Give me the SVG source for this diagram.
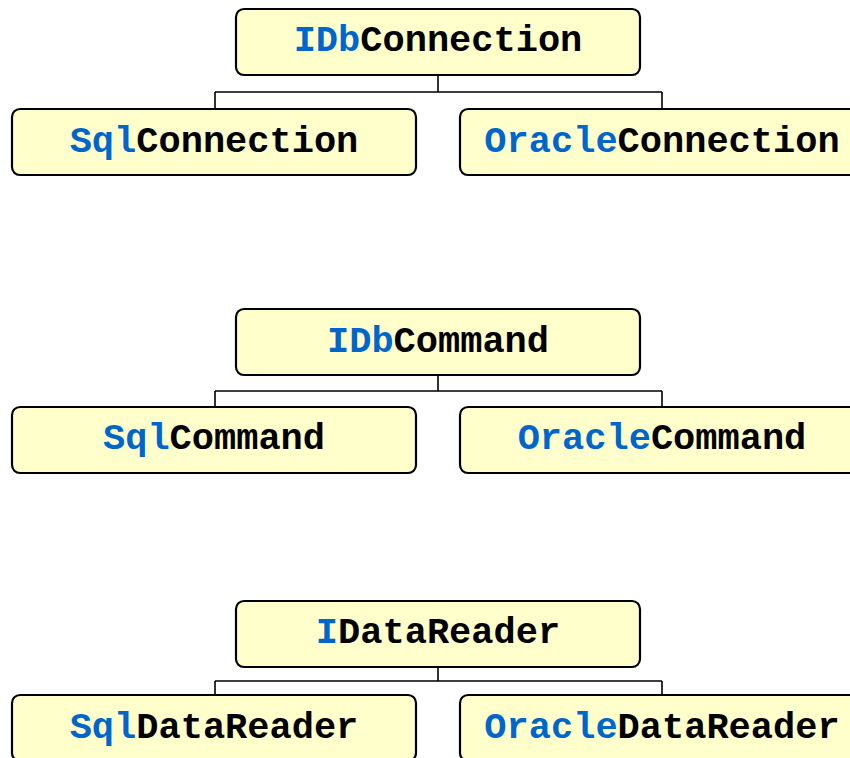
<svg xmlns="http://www.w3.org/2000/svg" width="850" height="758" viewBox="0 0 850 758">
<style>
.box{fill:#FFFFCC;stroke:#000;stroke-width:2.2}
.lbl{font-family:"Liberation Mono","Courier New",monospace;font-weight:bold;font-size:37px;fill:#000;text-anchor:middle}
.b{fill:#0066CC}
.con{fill:none;stroke:#000;stroke-width:1.6}
</style>
<rect width="850" height="758" fill="#fff"/>
<g id="connectors">
<path class="con" d="M438 75V92M215 92H662M215 92V109M662 92V109"/>
<path class="con" d="M438 375V391M215 391H662M215 391V407M662 391V407"/>
<path class="con" d="M438 667V681M215 681H662M215 681V695M662 681V695"/>
</g>
<g id="IDbConnection"><rect class="box" x="236" y="9" width="404" height="66" rx="8"/><text class="lbl" x="438" y="51"><tspan class="b">IDb</tspan>Connection</text></g>
<g id="SqlConnection"><rect class="box" x="12" y="109" width="404" height="66" rx="8"/><text class="lbl" x="214" y="152"><tspan class="b">Sql</tspan>Connection</text></g>
<g id="OracleConnection"><rect class="box" x="460" y="109" width="404" height="66" rx="8"/><text class="lbl" x="662" y="152"><tspan class="b">Oracle</tspan>Connection</text></g>
<g id="IDbCommand"><rect class="box" x="236" y="309" width="404" height="66" rx="8"/><text class="lbl" x="438" y="352"><tspan class="b">IDb</tspan>Command</text></g>
<g id="SqlCommand"><rect class="box" x="12" y="407" width="404" height="66" rx="8"/><text class="lbl" x="214" y="449"><tspan class="b">Sql</tspan>Command</text></g>
<g id="OracleCommand"><rect class="box" x="460" y="407" width="404" height="66" rx="8"/><text class="lbl" x="662" y="449"><tspan class="b">Oracle</tspan>Command</text></g>
<g id="IDataReader"><rect class="box" x="236" y="601" width="404" height="66" rx="8"/><text class="lbl" x="438" y="643"><tspan class="b">I</tspan>DataReader</text></g>
<g id="SqlDataReader"><rect class="box" x="12" y="695" width="404" height="66" rx="8"/><text class="lbl" x="214" y="738"><tspan class="b">Sql</tspan>DataReader</text></g>
<g id="OracleDataReader"><rect class="box" x="460" y="695" width="404" height="66" rx="8"/><text class="lbl" x="662" y="738"><tspan class="b">Oracle</tspan>DataReader</text></g>
</svg>
